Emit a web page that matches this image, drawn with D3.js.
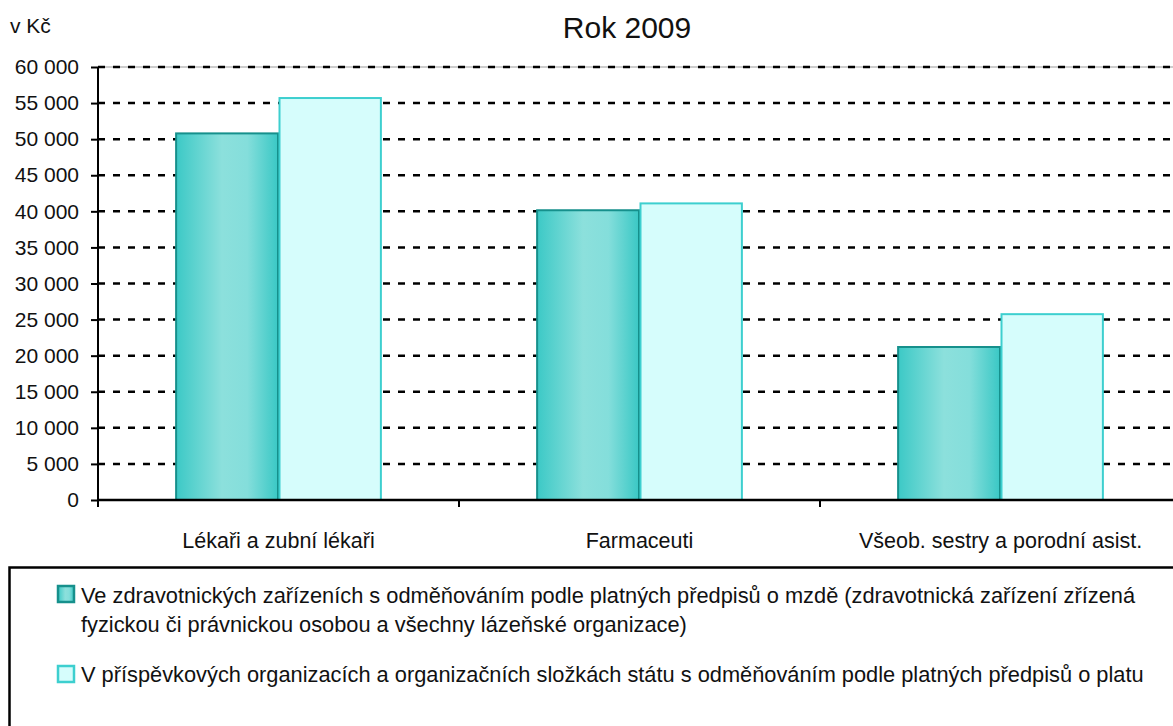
<!DOCTYPE html>
<html>
<head>
<meta charset="utf-8">
<script src="https://cdn.jsdelivr.net/npm/d3@7"></script>
<style>
  body { margin: 0; background: #fff; }
  svg { display: block; font-family: "Liberation Sans", Arial, sans-serif; }
</style>
</head>
<body>
<div class="canvas"></div>
<script>
const categories = ["Lékaři a zubní lékaři", "Farmaceuti", "Všeob. sestry a porodní asist."];
const seriesNames = [
  ["Ve zdravotnických zařízeních s odměňováním podle platných předpisů o mzdě (zdravotnická zařízení zřízená",
   "fyzickou či právnickou osobou a všechny lázeňské organizace)"],
  ["V příspěvkových organizacích a organizačních složkách státu s odměňováním podle platných předpisů o platu"]
];
const mzda = [50800, 40150, 21200];
const plat = [55700, 41100, 25750];
const yTicks = [0, 5000, 10000, 15000, 20000, 25000, 30000, 35000, 40000, 45000, 50000, 55000, 60000];

const width = 1173;
const height = 726;
const plotLeft = 98;
const plotTop = 67;
const plotBottom = 500;

const svg = d3.select(".canvas").append("svg")
  .attr("width", width).attr("height", height);

const defs = svg.append("defs");
const grad = defs.append("linearGradient").attr("id", "g1")
  .attr("x1", "0").attr("x2", "1").attr("y1", "0").attr("y2", "0");
grad.append("stop").attr("offset", "0%").attr("stop-color", "#3cc9c6");
grad.append("stop").attr("offset", "45%").attr("stop-color", "#8ce0dc");
grad.append("stop").attr("offset", "70%").attr("stop-color", "#84dedb");
grad.append("stop").attr("offset", "100%").attr("stop-color", "#3ac8c5");

const x = d3.scaleBand().domain(categories).range([plotLeft, 1181])
  .paddingInner(0.43).paddingOuter(0.215);
const y = d3.scaleLinear().domain([0, 60000]).range([plotBottom, plotTop]);
const fmt = v => d3.format(",")(v).replace(/,/g, " ");

// Title + unit
svg.append("text").attr("x", 627).attr("y", 38).attr("text-anchor", "middle")
  .attr("font-size", 30).attr("fill", "#111").text("Rok 2009");
svg.append("text").attr("x", 10).attr("y", 33)
  .attr("font-size", 21).attr("fill", "#111").text("v Kč");

// Grid lines
svg.append("line").attr("x1", plotLeft).attr("x2", width)
  .attr("y1", y(60000)).attr("y2", y(60000)).attr("stroke", "#999");
svg.selectAll(".grid").data(yTicks.filter(d => d > 0)).join("line")
  .attr("x1", plotLeft).attr("x2", width)
  .attr("y1", d => y(d)).attr("y2", d => y(d))
  .attr("stroke", "black").attr("stroke-width", 2.5)
  .attr("stroke-dasharray", "7,8");

// Bars
const bw = x.bandwidth() / 2;
svg.selectAll(".b1").data(mzda).join("rect")
  .attr("x", (d, i) => x(categories[i]) + 0.5)
  .attr("y", d => y(d))
  .attr("width", bw - 1)
  .attr("height", d => plotBottom - y(d))
  .attr("fill", "url(#g1)")
  .attr("stroke", "#16908c").attr("stroke-width", 2);
svg.selectAll(".b2").data(plat).join("rect")
  .attr("x", (d, i) => x(categories[i]) + bw + 1)
  .attr("y", d => y(d))
  .attr("width", bw - 1.5)
  .attr("height", d => plotBottom - y(d))
  .attr("fill", "#d6fdfc")
  .attr("stroke", "#3dcfcf").attr("stroke-width", 2);

// Y axis
const yAxis = svg.append("g").attr("transform", `translate(${plotLeft},0)`)
  .call(d3.axisLeft(y).tickValues(yTicks).tickFormat(fmt).tickSize(7).tickPadding(12));
yAxis.select(".domain").attr("stroke-width", 2).attr("d", `M0,${plotTop}V${plotBottom + 6}`);
yAxis.selectAll(".tick line").attr("stroke-width", 2);
yAxis.selectAll("text").attr("font-size", 21).attr("fill", "#111")
  .style("font-family", "Liberation Sans, Arial, sans-serif");

// X axis
svg.append("line").attr("x1", plotLeft).attr("x2", width)
  .attr("y1", plotBottom).attr("y2", plotBottom).attr("stroke", "black").attr("stroke-width", 2.5);
const step = x.step();
svg.selectAll(".xt").data(categories).join("line")
  .attr("x1", d => x(d) - step * 0.215).attr("x2", d => x(d) - step * 0.215)
  .attr("y1", plotBottom).attr("y2", plotBottom + 7)
  .attr("stroke", "black").attr("stroke-width", 2);
svg.selectAll(".xl").data(categories).join("text")
  .attr("x", d => x(d) + x.bandwidth() / 2)
  .attr("y", 548)
  .attr("text-anchor", "middle")
  .attr("font-size", 21.5).attr("fill", "#111")
  .text(d => d);

// Legend
svg.append("rect").attr("x", 9.5).attr("y", 567.5).attr("width", 1200).attr("height", 200)
  .attr("fill", "none").attr("stroke", "black").attr("stroke-width", 2.5);

svg.append("rect").attr("x", 58).attr("y", 586).attr("width", 16).attr("height", 16)
  .attr("fill", "url(#g1)").attr("stroke", "#16908c").attr("stroke-width", 2.5);
svg.append("rect").attr("x", 58).attr("y", 666).attr("width", 16).attr("height", 16)
  .attr("fill", "#d6fdfc").attr("stroke", "#3dcfcf").attr("stroke-width", 2.5);

const legendY = [[603, 632], [682]];
seriesNames.forEach((lines, i) => {
  lines.forEach((t, j) => {
    svg.append("text").attr("x", 81).attr("y", legendY[i][j])
      .attr("font-size", 21.8).attr("fill", "#111").text(t);
  });
});
</script>
</body>
</html>
